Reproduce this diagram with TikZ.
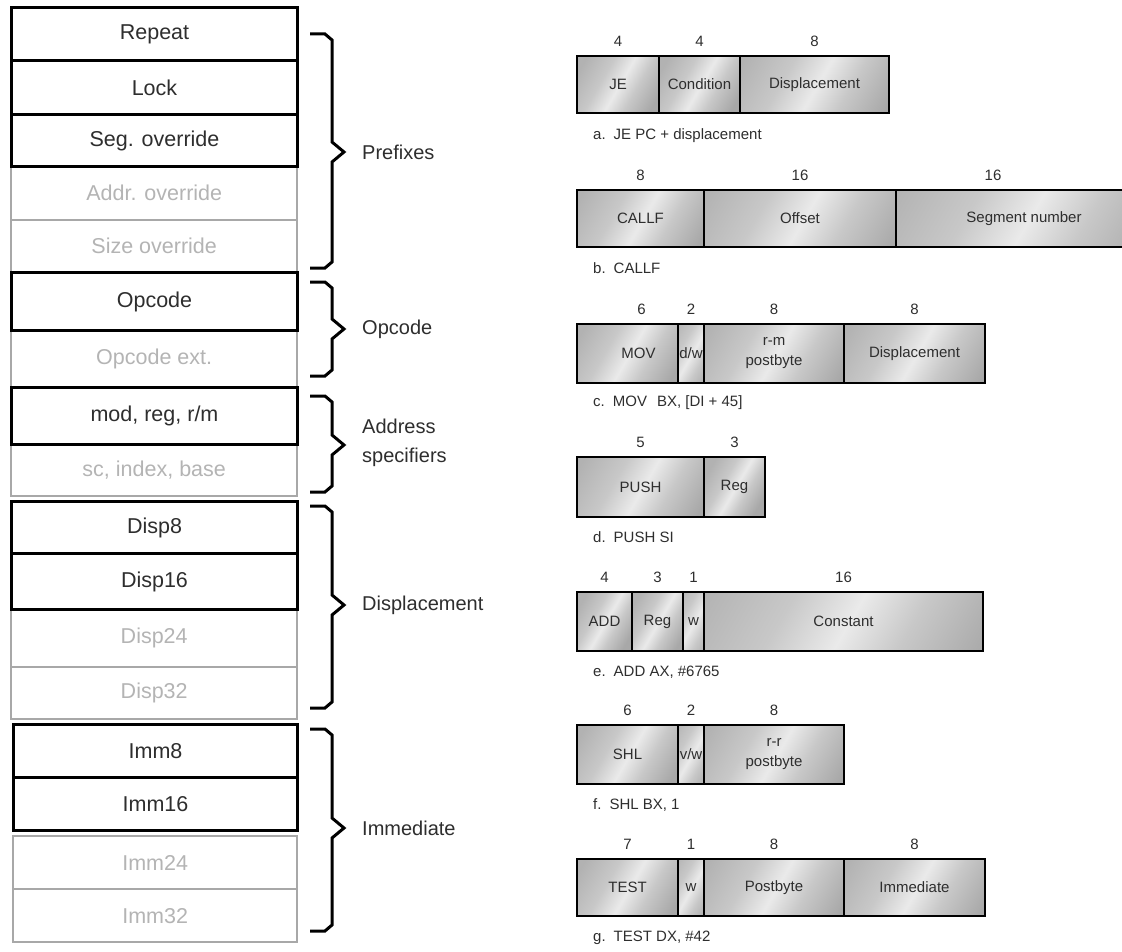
\documentclass[tikz,border=0pt]{standalone}
\usepackage{fontspec}
\setmainfont{Liberation Sans}
\usetikzlibrary{calc}

\definecolor{txtdark}{HTML}{2E2E2E}
\definecolor{txtgray}{HTML}{B4B4B4}
\definecolor{linegray}{HTML}{A8A8A8}
\definecolor{cellbase}{HTML}{B2B2B2}
\definecolor{cellmid}{HTML}{C8C8C8}
\definecolor{celldark}{HTML}{A8A8A8}
\definecolor{celllight}{HTML}{EAEAEA}

% light diagonal streak across a grey field
\pgfdeclarehorizontalshading{streak}{100bp}{%
  color(0bp)=(cellbase); color(25bp)=(cellbase); color(40bp)=(cellmid);
  color(51bp)=(celllight); color(61bp)=(cellmid); color(75bp)=(celldark);
  color(100bp)=(celldark)}

\tikzset{
  x=1pt, y=-1pt,
  layerdark/.style={draw=black, line width=3pt, text=txtdark, anchor=north west,
    inner sep=0pt, font=\fontsize{21.5}{24}\selectfont},
  layerlight/.style={draw=linegray, line width=2.4pt, text=txtgray, anchor=north west,
    inner sep=0pt, font=\fontsize{21.5}{24}\selectfont},
  groupbrace/.style={draw=black, line width=3pt},
  grouplabel/.style={anchor=west, inner sep=0pt, text=txtdark, align=left,
    font=\fontsize{20}{29}\selectfont},
  fieldcell/.style={draw=black, line width=2pt, text=txtdark, anchor=north west,
    inner sep=0pt, align=center, font=\fontsize{15}{20}\selectfont},
  bitcount/.style={inner sep=0pt, text=txtdark, font=\fontsize{15}{18}\selectfont},
  caption/.style={anchor=west, inner sep=0pt, text=txtdark, font=\fontsize{15}{18}\selectfont},
}

% one byte-group row of the prefix/opcode/operand column
\newcommand\layer[7]{%
  \node[#1, minimum width={#4-#3}, minimum height={#6-#5}] (#2) at (#3,#5) {#7};}

% curly group brace: name, top, tip, bottom
\newcommand\groupbrace[4]{%
  \draw[groupbrace] (310,#2) -- (325,#2) -- (332,#2+6) -- (332,#3-10)
    -- (344,#3) -- (332,#3+10) -- (332,#4-6) -- (325,#4) -- (310,#4);
  \coordinate (#1) at (344,#3);}

% shaded instruction field: name, left, right, top, bottom, text
\newcommand\field[6]{%
  \pgfmathsetmacro\fw{#3-#2}\pgfmathsetmacro\fh{#5-#4}%
  \pgfmathsetmacro\fs{max(\fw,\fh)/2}%
  \node[fieldcell, minimum width=\fw, minimum height=\fh,
    path picture={\shade[shading=streak, shading angle=-30]
      ($(path picture bounding box.center)+(-\fs,-\fs)$) rectangle
      ($(path picture bounding box.center)+(\fs,\fs)$);}] (#1) at (#2,#4) {#6};}

% bit width above a field: [x offset]{field}{text}
\newcommand\bits[3][0]{%
  \node[bitcount] (#2-w) at ($(#2.north)+(#1,-14)$) {#3};}

\begin{document}
\begin{tikzpicture}
\useasboundingbox (0,0) rectangle (1122,952);
\fill[white] (0,0) rectangle (1122,952);
\clip (0,0) rectangle (1122,952);

% ---- optional byte groups (grey) ----
\layer{layerlight}{addr}{10}{296}{165}{219}{Addr. override}
\layer{layerlight}{size}{10}{296}{219}{271}{Size override}
\layer{layerlight}{opext}{10}{296}{329}{386}{Opcode ext.}
\layer{layerlight}{sib}{10}{296}{443}{495}{sc, index, base}
\layer{layerlight}{disp24}{10}{296}{608}{666}{Disp24}
\layer{layerlight}{disp32}{10}{296}{666}{718}{Disp32}
\layer{layerlight}{imm24}{12}{296}{835}{888}{Imm24}
\layer{layerlight}{imm32}{12}{296}{888}{941}{Imm32}

% ---- 8086 byte groups (black) ----
\layer{layerdark}{repeat}{10}{296}{6}{59}{Repeat}
\layer{layerdark}{lock}{10}{296}{59}{113}{Lock}
\layer{layerdark}{seg}{10}{296}{113}{165}{Seg. override}
\layer{layerdark}{opcode}{10}{296}{271}{329}{Opcode}
\layer{layerdark}{modrm}{10}{296}{386}{443}{mod, reg, r/m}
\layer{layerdark}{disp8}{10}{296}{500}{552}{Disp8}
\layer{layerdark}{disp16}{10}{296}{552}{608}{Disp16}
\layer{layerdark}{imm8}{12}{296}{723}{776}{Imm8}
\layer{layerdark}{imm16}{12}{296}{776}{829}{Imm16}

% ---- group braces and names ----
\groupbrace{bpre}{34}{152}{268}
\groupbrace{bopc}{282}{329}{376}
\groupbrace{badr}{396}{445}{492}
\groupbrace{bdsp}{506}{605}{708}
\groupbrace{bimm}{729}{828}{931}
\node[grouplabel] (lpre) at ($(bpre)+(18,0)$) {Prefixes};
\node[grouplabel] (lopc) at ($(bopc)+(18,0)$) {Opcode};
\node[grouplabel] (ladr) at ($(badr)+(18,-2)$) {Address\\specifiers};
\node[grouplabel] (ldsp) at ($(bdsp)+(18,0)$) {Displacement};
\node[grouplabel] (limm) at ($(bimm)+(18,0)$) {Immediate};

% ---- a. JE ----
\field{je}{576}{658}{55}{112}{JE}
\field{jecond}{658}{739}{55}{112}{Condition}
\field{jedisp}{739}{888}{55}{112}{Displacement}
\bits{je}{4}\bits{jecond}{4}\bits{jedisp}{8}
\node[caption] (capa) at (593,136) {a.\hspace{8pt}JE PC + displacement};

% ---- b. CALLF ----
\field{callf}{576}{703}{189}{246}{CALLF}
\field{cfoff}{703}{895}{189}{246}{Offset}
\field{cfseg}{895}{1151}{189}{246}{Segment number}
\bits{callf}{8}\bits{cfoff}{16}\bits[-31]{cfseg}{16}
\node[caption] (capb) at (593,268) {b.\hspace{8pt}CALLF};

% ---- c. MOV ----
\field{mov}{576}{677}{323}{382}{\hspace{22pt}MOV}
\field{movdw}{677}{703}{323}{382}{d/w}
\field{movrm}{703}{843}{323}{382}{r-m\\postbyte}
\field{movdisp}{843}{984}{323}{382}{Displacement}
\bits[14]{mov}{6}\bits{movdw}{2}\bits{movrm}{8}\bits{movdisp}{8}
\node[caption] (capc) at (593,403) {c.\hspace{8pt}MOV\hspace{10pt}BX, [DI + 45]};

% ---- d. PUSH ----
\field{push}{576}{703}{456}{516}{PUSH}
\field{pushreg}{703}{764}{456}{516}{Reg}
\bits{push}{5}\bits{pushreg}{3}
\node[caption] (capd) at (593,537) {d.\hspace{8pt}PUSH SI};

% ---- e. ADD ----
\field{add}{576}{631}{591}{650}{ADD}
\field{addreg}{631}{682}{591}{650}{Reg}
\field{addw}{682}{703}{591}{650}{w}
\field{addconst}{703}{982}{591}{650}{Constant}
\bits{add}{4}\bits{addreg}{3}\bits{addw}{1}\bits{addconst}{16}
\node[caption] (cape) at (593,672) {e.\hspace{8pt}ADD AX, \#6765};

% ---- f. SHL ----
\field{shl}{576}{677}{724}{783}{SHL}
\field{shlvw}{677}{703}{724}{783}{v/w}
\field{shlrr}{703}{843}{724}{783}{r-r\\postbyte}
\bits{shl}{6}\bits{shlvw}{2}\bits{shlrr}{8}
\node[caption] (capf) at (593,805) {f.\hspace{8pt}SHL BX, 1};

% ---- g. TEST ----
\field{test}{576}{677}{858}{915}{TEST}
\field{testw}{677}{703}{858}{915}{w}
\field{testpb}{703}{843}{858}{915}{Postbyte}
\field{testimm}{843}{984}{858}{915}{Immediate}
\bits{test}{7}\bits{testw}{1}\bits{testpb}{8}\bits{testimm}{8}
\node[caption] (capg) at (593,938) {g.\hspace{8pt}TEST DX, \#42};
\end{tikzpicture}
\end{document}
